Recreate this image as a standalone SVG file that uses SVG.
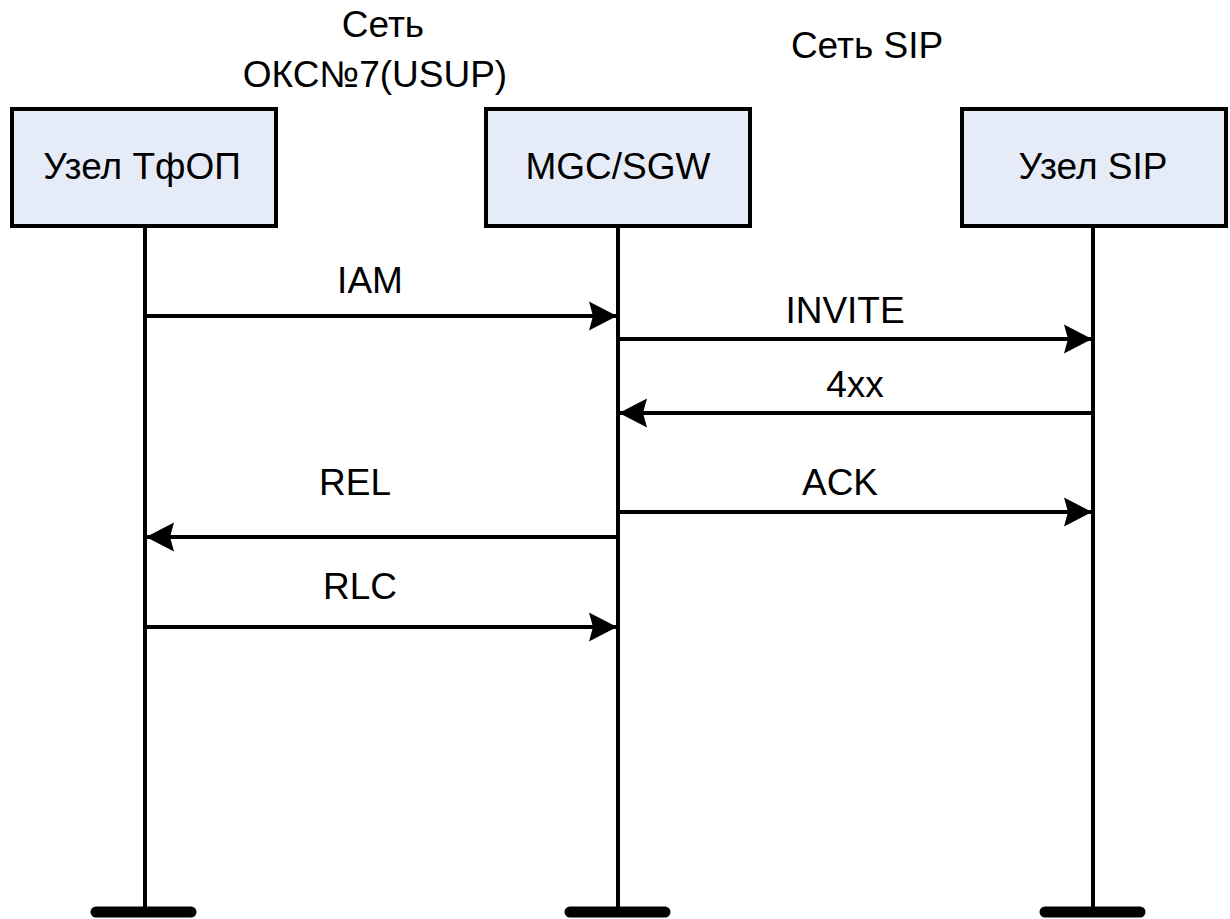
<svg xmlns="http://www.w3.org/2000/svg" width="1230" height="919" viewBox="0 0 1230 919">
<defs>
<marker id="ah" markerUnits="userSpaceOnUse" markerWidth="30" markerHeight="32" viewBox="0 0 30 32" refX="28" refY="16" orient="auto">
<path d="M0,1.5 L28,16 L0,30.5 L4,16 Z" fill="#000"/>
</marker>
<style>
.box{fill:#E6ECF7;stroke:#000;stroke-width:4}
.life{stroke:#000;stroke-width:4;fill:none}
.bar{stroke:#000;stroke-width:11;stroke-linecap:round}
.msg{stroke:#000;stroke-width:4;fill:none;marker-end:url(#ah)}
text{font-family:"Liberation Sans",Arial,sans-serif;font-size:37px;fill:#000;text-anchor:middle}
</style>
</defs>
<rect width="1230" height="919" fill="#fff"/>
<g id="labels-top">
<text x="383" y="37">Сеть</text>
<text x="375" y="87">ОКС№7(USUP)</text>
<text x="867" y="58">Сеть SIP</text>
</g>
<g id="lifelines">
<line class="life" x1="145" y1="226" x2="145" y2="910"/>
<line class="life" x1="618" y1="226" x2="618" y2="910"/>
<line class="life" x1="1093" y1="226" x2="1093" y2="910"/>
<line class="bar" x1="96" y1="912" x2="191" y2="912"/>
<line class="bar" x1="570" y1="912" x2="665" y2="912"/>
<line class="bar" x1="1045" y1="912" x2="1140" y2="912"/>
</g>
<g id="node-pstn">
<rect class="box" x="12" y="109" width="264" height="117"/>
<text x="142" y="179">Узел ТфОП</text>
</g>
<g id="node-mgc">
<rect class="box" x="486" y="109" width="264" height="117"/>
<text x="618" y="179">MGC/SGW</text>
</g>
<g id="node-sip">
<rect class="box" x="962" y="109" width="264" height="117"/>
<text x="1093" y="179">Узел SIP</text>
</g>
<g id="connectors">
<line class="msg" x1="145" y1="316" x2="617" y2="316"/>
<text x="370" y="293">IAM</text>
<line class="msg" x1="618" y1="339" x2="1092" y2="339"/>
<text x="845" y="323">INVITE</text>
<line class="msg" x1="1093" y1="413" x2="619" y2="413"/>
<text x="855" y="397">4xx</text>
<line class="msg" x1="618" y1="512" x2="1092" y2="512"/>
<text x="840" y="495">ACK</text>
<line class="msg" x1="618" y1="537" x2="146" y2="537"/>
<text x="355" y="495">REL</text>
<line class="msg" x1="145" y1="627" x2="617" y2="627"/>
<text x="360" y="599">RLC</text>
</g>
</svg>
